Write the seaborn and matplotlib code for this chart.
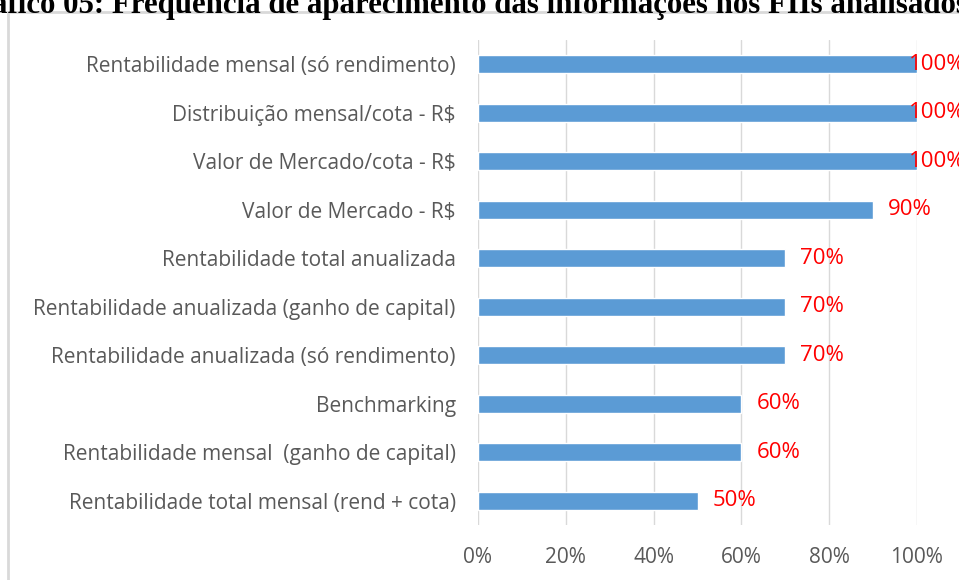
import matplotlib.pyplot as plt
import matplotlib.patches as patches
import matplotlib.transforms as mtransforms
import pandas as pd
import seaborn as sns

sns.set_style("white")
plt.rcParams['font.family'] = ['Open Sans', 'DejaVu Sans']

# Data (top to bottom)
categories = [
    'Rentabilidade mensal (só rendimento)',
    'Distribuição mensal/cota - R$',
    'Valor de Mercado/cota - R$',
    'Valor de Mercado - R$',
    'Rentabilidade total anualizada',
    'Rentabilidade anualizada (ganho de capital)',
    'Rentabilidade anualizada (só rendimento)',
    'Benchmarking',
    'Rentabilidade mensal  (ganho de capital)',
    'Rentabilidade total mensal (rend + cota)',
]
values = [100, 100, 100, 90, 70, 70, 70, 60, 60, 50]
tick_values = [0, 20, 40, 60, 80, 100]
tick_labels = ['0%', '20%', '40%', '60%', '80%', '100%']
title = 'Gráfico 05: Frequência de aparecimento das informações nos FIIs analisados'

df = pd.DataFrame({'item': categories, 'pct': values})

fig = plt.figure(figsize=(9.59, 5.80), dpi=100)
ax = fig.add_axes([478 / 959, 1 - 525 / 580, (917 - 478) / 959, (525 - 40) / 580])

sns.barplot(data=df, y='item', x='pct', orient='h', color='#5B9BD5',
            width=0.37, saturation=1, ax=ax)

ax.set_xlim(0, 100)
ax.set_xticks(tick_values)
ax.set_xticklabels(tick_labels)
ax.xaxis.grid(True, color='#d9d9d9', linewidth=1)
ax.set_axisbelow(True)
for s in ax.spines.values():
    s.set_visible(False)
ax.set_xlabel('')
ax.set_ylabel('')
ax.tick_params(axis='both', length=0, labelcolor='#595959')
ax.tick_params(axis='y', pad=16, labelsize=15)
ax.tick_params(axis='x', pad=16, labelsize=15)

# value labels in red
for i, v in enumerate(values):
    dx = -8 if v >= 100 else 15
    off = mtransforms.offset_copy(ax.transData, fig=fig, x=dx, y=0, units='dots')
    ax.text(v, i, f'{v}%', transform=off, color='#FF0000', fontsize=16,
            va='center', ha='left', clip_on=False)

# chart frame
fig.patches.append(patches.Rectangle((8 / 959, -0.1), 1.0, 1 - 12 / 580 + 0.1,
                                     transform=fig.transFigure, fill=False,
                                     edgecolor='#d9d9d9', linewidth=2))

# title, cut at the top of the image as in the source
fig.text(0.481, 1 - 5 / 580, title, ha='center', va='center', fontsize=22.2,
         fontweight='bold', family='Liberation Serif', color='black')

fig.savefig('out.png', dpi=100)
